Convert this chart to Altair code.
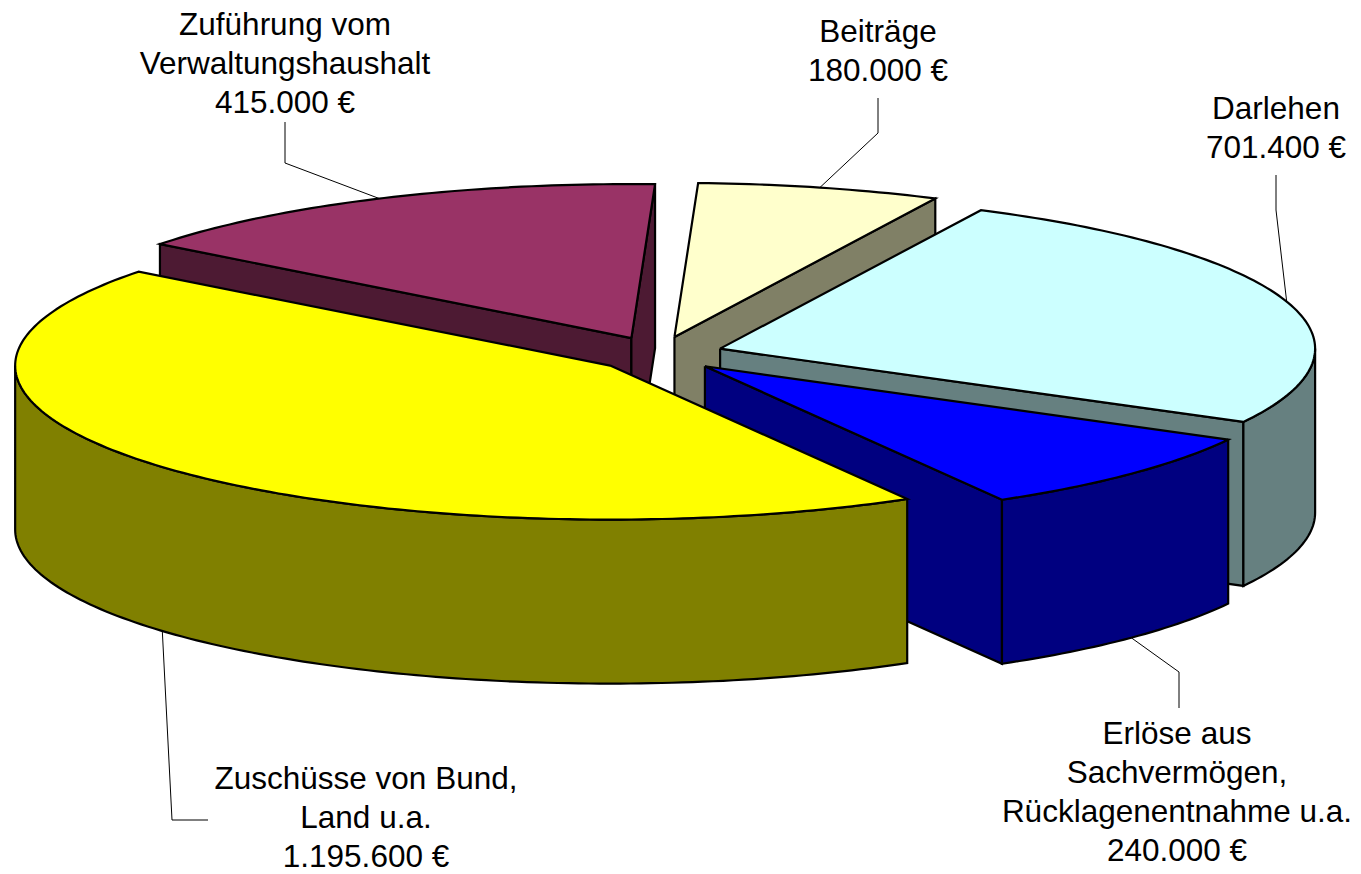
import math
import altair as alt
import pandas as pd

# ---- data (clockwise, starting at the first slice)
categories = ["Darlehen", "Erlöse", "Zuschüsse", "Zuführung", "Beiträge"]
values = [701400, 240000, 1195600, 415000, 180000]
label_lines = [
    ["Darlehen", "701.400 €"],
    ["Erlöse aus", "Sachvermögen,", "Rücklagenentnahme u.a.", "240.000 €"],
    ["Zuschüsse von Bund,", "Land u.a.", "1.195.600 €"],
    ["Zuführung vom", "Verwaltungshaushalt", "415.000 €"],
    ["Beiträge", "180.000 €"],
]
top_colors = ["#CCFFFF", "#0000FF", "#FFFF00", "#993366", "#FFFFCC"]
wall_colors = ["#668080", "#000080", "#808000", "#4D1A33", "#808066"]

# ---- layout of the pseudo-3D projection (page pixels)
W, H = 1345, 866
CX, CY, RX, RY = 658.7, 354.0, 595.0, 154.0
EXPLODE_X, EXPLODE_Y, DEPTH = 64.5, 17.6, 164.0
FIRST_ANGLE = 64.0
label_pos = [(1276, 110), (1177, 735), (366, 780), (285, 26), (878, 33)]
leader_elbows = [
    [(1276, 175), (1276, 210)],
    [(1179, 708), (1179, 672)],
    [(208, 820), (172, 820)],
    [(285, 122), (285, 163)],
    [(878, 98), (878, 133)],
]
LINE_STEP = 39
draw_order = [3, 4, 0, 1, 2]

x_scale = alt.Scale(domain=[8, 8 + W], range=[0, W], nice=False, zero=False)
y_scale = alt.Scale(domain=[8, 8 + H], range=[0, H], nice=False, zero=False)
X = alt.X("x:Q", scale=x_scale, axis=None)
Y = alt.Y("y:Q", scale=y_scale, axis=None)


def polygon(points, fill):
    pts = list(points) + [points[0]]
    df = pd.DataFrame({"x": [p[0] for p in pts], "y": [p[1] for p in pts], "i": range(len(pts))})
    return alt.Chart(df).mark_line(
        fill=fill, stroke="black", strokeWidth=2.2, strokeJoin="miter", interpolate="linear"
    ).encode(x=X, y=Y, order="i:Q")


total = sum(values)
slices = []
t = FIRST_ANGLE
for v in values:
    sweep = v / total * 360
    t0, t1 = t, t - sweep
    mid = math.radians((t0 + t1) / 2)
    ax = CX + EXPLODE_X * math.cos(mid)
    ay = CY - EXPLODE_Y * math.sin(mid)
    slices.append((t0, t1, ax, ay))
    t = t1


def rim(ax, ay, deg, d=0.0):
    r = math.radians(deg)
    return (ax + RX * math.cos(r), ay - RY * math.sin(r) + d)


def arc(ax, ay, a0, a1, d=0.0):
    n = max(2, int(abs(a0 - a1)) + 1)
    return [rim(ax, ay, a0 + (a1 - a0) * k / n, d) for k in range(n + 1)]


# leader lines, anchored on the mid angle of each slice (drawn under the pie)
layers = []
for idx, elbows in enumerate(leader_elbows):
    t0, t1, ax, ay = slices[idx]
    mid = (t0 + t1) / 2
    d = DEPTH if math.sin(math.radians(mid)) < 0 else 0.0
    pts = elbows + [rim(ax, ay, mid, d)]
    df = pd.DataFrame({"x": [p[0] for p in pts], "y": [p[1] for p in pts], "i": range(len(pts))})
    layers.append(
        alt.Chart(df).mark_line(color="black", strokeWidth=1).encode(x=X, y=Y, order="i:Q")
    )

for idx in draw_order:
    t0, t1, ax, ay = slices[idx]
    wall = wall_colors[idx]
    # flat cut faces
    if math.cos(math.radians(t0)) < 0:
        p = rim(ax, ay, t0)
        layers.append(polygon([(ax, ay), p, (p[0], p[1] + DEPTH), (ax, ay + DEPTH)], wall))
    if math.cos(math.radians(t1)) > 0:
        p = rim(ax, ay, t1)
        layers.append(polygon([(ax, ay), p, (p[0], p[1] + DEPTH), (ax, ay + DEPTH)], wall))
    # outer curved wall: only the part below the horizontal diameter shows
    for k in (0, 1):
        lo, hi = (-180 - 360 * k, -360 * k)
        a = min(max(t0, lo), hi)
        b = max(min(t1, hi), lo)
        if a > b:
            upper = arc(ax, ay, a, b)
            lower = arc(ax, ay, b, a, DEPTH)
            layers.append(polygon(upper + lower, wall))
    # top face
    layers.append(polygon([(ax, ay)] + arc(ax, ay, t0, t1), top_colors[idx]))

rows = []
for lines, (lx, ly) in zip(label_lines, label_pos):
    for n, s in enumerate(lines):
        rows.append({"x": lx, "y": ly + n * LINE_STEP, "label": s})
layers.append(
    alt.Chart(pd.DataFrame(rows)).mark_text(
        font="Liberation Sans", fontSize=31.5, color="black", align="center", baseline="middle"
    ).encode(x=X, y=Y, text="label:N")
)

chart = alt.layer(*layers).properties(
    width=W, height=H, padding=0, background="white", autosize=alt.AutoSizeParams(type="none")
).configure_view(stroke=None)
chart.save("out.html", embed_options={"renderer": "svg", "actions": False})
